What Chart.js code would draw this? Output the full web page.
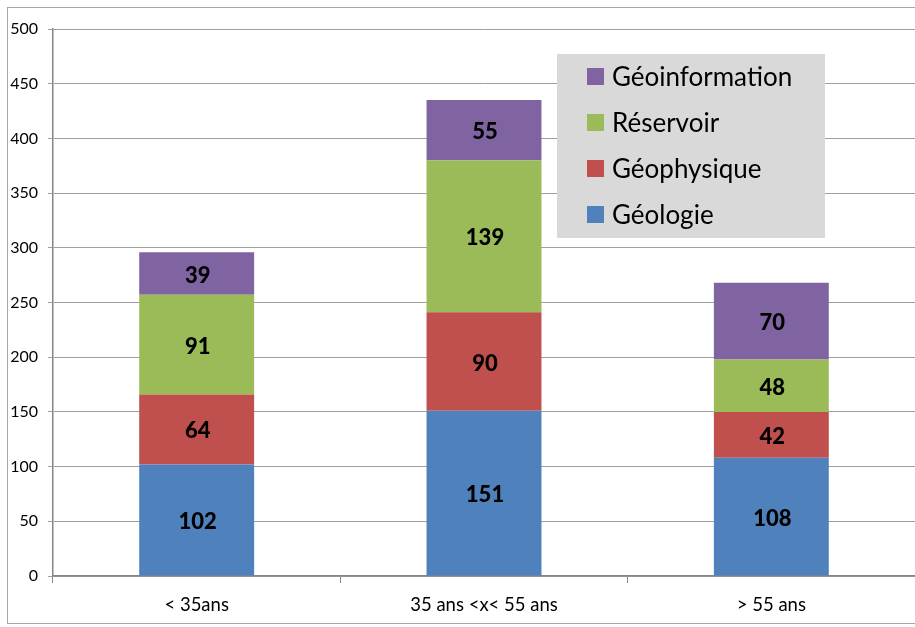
<!DOCTYPE html>
<html>
<head>
<meta charset="utf-8">
<script src="https://cdn.jsdelivr.net/npm/chart.js@4"></script>
<style>
    html, body { margin: 0; padding: 0; background: #fff; }
    #wrap { position: relative; width: 915px; height: 627px; overflow: hidden; }
    #frame { position: absolute; left: 7px; top: 7px; width: 940px; height: 617px; border: 1.5px solid #a6a6a6; box-sizing: border-box; }
    canvas { position: absolute; left: 0; top: 0; }
</style>
</head>
<body>
<div id="wrap">
    <div id="frame"></div>
    <canvas id="chart" width="915" height="627"></canvas>
</div>
<script>
// Données
const categories = ['< 35ans', '35 ans <x< 55 ans', '> 55 ans'];
const geologie = [102, 151, 108];
const geophysique = [64, 90, 42];
const reservoir = [91, 139, 48];
const geoinformation = [39, 55, 70];
const yTicks = [0, 50, 100, 150, 200, 250, 300, 350, 400, 450, 500];

const FONT = 'Lato, "Open Sans", sans-serif';

// Étiquettes de valeurs au centre des segments
const valueLabels = {
    id: 'valueLabels',
    afterDatasetsDraw(chart) {
        const ctx = chart.ctx;
        ctx.save();
        ctx.font = '900 22px ' + FONT;
        ctx.fillStyle = '#000';
        ctx.textAlign = 'center';
        ctx.textBaseline = 'middle';
        chart.data.datasets.forEach((ds, i) => {
            chart.getDatasetMeta(i).data.forEach((bar, j) => {
                const mid = (bar.y + bar.base) / 2;
                ctx.fillText(ds.data[j], bar.x + 1, mid + 2);
            });
        });
        ctx.restore();
    }
};

// Légende dans un encadré gris (ordre inversé)
const boxLegend = {
    id: 'boxLegend',
    afterDraw(chart) {
        const ctx = chart.ctx;
        ctx.save();
        ctx.fillStyle = '#d9d9d9';
        ctx.fillRect(557, 54, 268, 184);
        ctx.font = '26px ' + FONT;
        ctx.textBaseline = 'middle';
        const items = chart.data.datasets.slice().reverse();
        items.forEach((ds, k) => {
            const cy = 76.5 + k * 46;
            ctx.fillStyle = ds.backgroundColor;
            ctx.fillRect(587, cy - 8.5, 17, 17);
            ctx.fillStyle = '#000';
            ctx.fillText(ds.label, 612, cy + 1);
        });
        ctx.restore();
    }
};

new Chart(document.getElementById('chart'), {
    type: 'bar',
    data: {
        labels: categories,
        datasets: [
            { label: 'Géologie', data: geologie, backgroundColor: '#4f81bd' },
            { label: 'Géophysique', data: geophysique, backgroundColor: '#c0504d' },
            { label: 'Réservoir', data: reservoir, backgroundColor: '#9bbb59' },
            { label: 'Géoinformation', data: geoinformation, backgroundColor: '#8064a2' }
        ]
    },
    options: {
        responsive: false,
        animation: false,
        devicePixelRatio: 1,
        layout: { padding: { top: 29, right: 0, bottom: 0, left: 0 } },
        datasets: {
            bar: { barPercentage: 0.4, categoryPercentage: 1 }
        },
        scales: {
            x: {
                stacked: true,
                afterFit(scale) { scale.height = 51; },
                grid: {
                    offset: true,
                    drawOnChartArea: false,
                    drawTicks: true,
                    tickLength: 7,
                    color: '#868686'
                },
                border: { color: '#868686', width: 1.5 },
                ticks: {
                    color: '#000',
                    padding: 11,
                    font: { family: FONT, size: 18.5 },
                    maxRotation: 0
                }
            },
            y: {
                stacked: true,
                min: 0,
                max: 500,
                afterFit(scale) { scale.width = 53; },
                afterBuildTicks(scale) {
                    scale.ticks = yTicks.map(v => ({ value: v }));
                },
                grid: {
                    color: '#a0a0a0',
                    tickLength: 5,
                    lineWidth: 1
                },
                border: { color: '#868686', width: 1.5 },
                ticks: {
                    color: '#000',
                    padding: 10,
                    font: { family: FONT, size: 16 }
                }
            }
        },
        plugins: {
            legend: { display: false },
            tooltip: { enabled: false }
        }
    },
    plugins: [valueLabels, boxLegend]
});
</script>
</body>
</html>
